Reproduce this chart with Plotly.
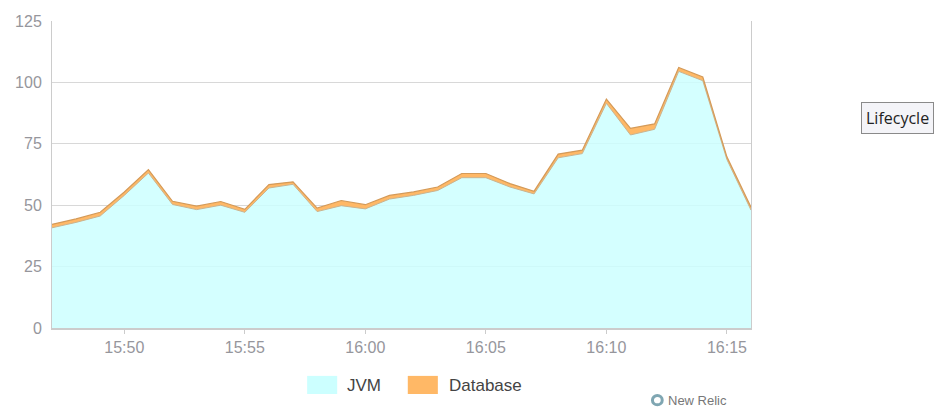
import plotly.graph_objects as go

# minute timestamps, 15:47 .. 16:16
times = ['2013-01-01 15:%02d' % m for m in range(47, 60)] + \
        ['2013-01-01 16:%02d' % m for m in range(0, 17)]

jvm = [40.8, 43.0, 45.6, 54.0, 63.1, 50.3, 48.2, 50.0, 47.1, 57.0,
       58.5, 47.4, 49.8, 48.5, 52.5, 54.0, 56.0, 61.2, 61.2, 57.4,
       54.6, 69.3, 71.0, 91.5, 78.6, 80.9, 104.5, 100.7, 68.6, 48.0]

database = [1.4, 1.4, 1.5, 1.4, 1.4, 1.3, 1.4, 1.5, 1.2, 1.4,
            1.0, 1.4, 2.1, 1.7, 1.5, 1.4, 1.4, 1.7, 1.7, 1.4,
            1.1, 1.5, 1.4, 1.7, 2.7, 2.2, 1.6, 1.5, 1.1, 1.2]

y_ticks = [0, 25, 50, 75, 100, 125]

fig = go.Figure()
fig.add_trace(go.Scatter(
    x=times, y=jvm, name='JVM', stackgroup='one', mode='lines',
    line=dict(color='#c8b490', width=1),
    fillcolor='rgba(204,255,255,0.85)',
))
fig.add_trace(go.Scatter(
    x=times, y=database, name='Database', stackgroup='one', mode='lines',
    line=dict(color='#d49a58', width=1.2),
    fillcolor='#ffb866',
))

tick_font = dict(family='Liberation Sans, Arial', size=16, color='#96969c')

# the page body adds 8px, so margins are 8px smaller than the screen positions
fig.update_layout(
    width=942, height=412,
    margin=dict(l=44, r=199, t=13, b=92),
    paper_bgcolor='white', plot_bgcolor='white',
    showlegend=False,
    xaxis=dict(
        type='date', range=[times[0], times[-1]],
        dtick=300000, tickformat='%H:%M', automargin=False,
        showgrid=False, showline=True, linecolor='#cccccc', linewidth=2,
        ticks='outside', ticklen=4, tickcolor='#cccccc',
        tickfont=tick_font,
    ),
    yaxis=dict(
        range=[0, 125], tickvals=y_ticks, automargin=False,
        showgrid=True, gridcolor='#d8d8d8', gridwidth=1,
        showline=True, mirror=True, linecolor='#cccccc', linewidth=1,
        zeroline=False, ticks='', ticklabelstandoff=6,
        tickfont=tick_font,
    ),
    font=dict(family='Liberation Sans, Arial'),
)

# legend drawn by hand to match the wide swatches
fig.add_shape(type='rect', xref='paper', yref='paper',
              x0=0.365, x1=0.408, y0=-0.215, y1=-0.156,
              fillcolor='#ccffff', line=dict(width=0))
fig.add_shape(type='rect', xref='paper', yref='paper',
              x0=0.509, x1=0.552, y0=-0.215, y1=-0.156,
              fillcolor='#ffb866', line=dict(width=0))
fig.add_annotation(text='JVM', xref='paper', yref='paper',
                   x=0.419, y=-0.186, xanchor='left', yanchor='middle',
                   showarrow=False, font=dict(size=17, color='#444444'))
fig.add_annotation(text='Database', xref='paper', yref='paper',
                   x=0.565, y=-0.186, xanchor='left', yanchor='middle',
                   showarrow=False, font=dict(size=17, color='#444444'))

# New Relic badge
fig.add_shape(type='circle', xref='paper', yref='paper',
              x0=0.859, x1=0.873, y0=-0.250, y1=-0.220,
              line=dict(color='#7fa6b2', width=3), fillcolor='white')
fig.add_annotation(text='New Relic', xref='paper', yref='paper',
                   x=0.878, y=-0.235, xanchor='left', yanchor='middle',
                   showarrow=False, font=dict(size=13, color='#777777'))

# tooltip-like box on the right
fig.add_annotation(text='Lifecycle', xref='paper', yref='paper',
                   x=1.157, y=0.684, xanchor='left', yanchor='middle',
                   showarrow=False, borderpad=4,
                   bgcolor='#f4f4f8', bordercolor='#8a8a8a', borderwidth=1,
                   font=dict(family='Open Sans, Noto Sans', size=16, color='#222222'))

fig.write_html('out.html')
